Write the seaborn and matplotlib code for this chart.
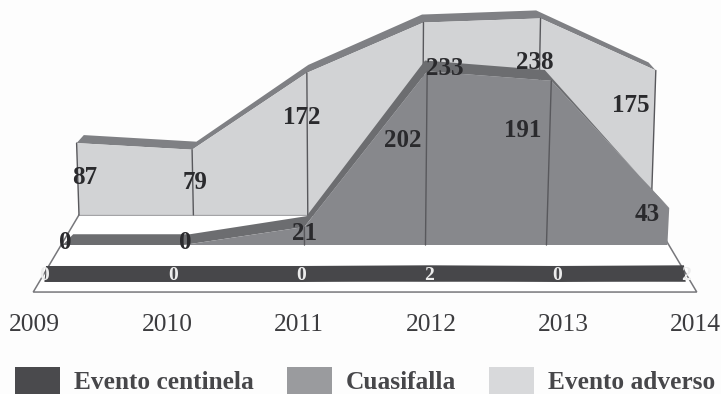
import matplotlib
matplotlib.use("Agg")
import matplotlib.pyplot as plt
from matplotlib.patches import Patch
import pandas as pd
import seaborn as sns

years = [2009, 2010, 2011, 2012, 2013, 2014]
evento_centinela = [0, 0, 0, 2, 0, 2]
cuasifalla = [0, 0, 21, 202, 191, 43]
evento_adverso = [87, 79, 172, 233, 238, 175]
series_names = ["Evento centinela", "Cuasifalla", "Evento adverso"]

PAPER = "#fdfdfd"
WIDTH, HEIGHT = 721, 394
X_PER_YEAR = 127.6
Y_PER_COUNT = 0.86
MID_YEAR = 2011.5

# Depth rows of the pseudo-3D stage: horizontal spread, baseline, vertical
# scale, widening with height, and the shrink/lift of the far edge of the ribbon.
ROW_FRONT = dict(spread=1.005, base=-43.0, vscale=0.4, lean=0.0, far=0.995, lift=18.6)
ROW_MIDDLE = dict(spread=0.948, base=0.0, vscale=1.0, lean=1.4e-4, far=0.965, lift=12.5)
ROW_BACK = dict(spread=0.8966, base=35.0, vscale=0.96, lean=1.0e-4, far=0.975, lift=9.3)


def project(year, value, row, far_edge=False):
    """Map a (year, count) pair in a depth row onto the flat axes."""
    height = value * row["vscale"]
    x = (year - MID_YEAR) * row["spread"] * (1 + height * row["lean"])
    y = row["base"] + height
    if far_edge:
        x *= row["far"]
        y += row["lift"]
    return MID_YEAR + x, y


def outline(ax, xs, ys, color, width, order):
    data = pd.DataFrame({"x": xs, "y": ys})
    sns.lineplot(data=data, x="x", y="y", sort=False, estimator=None, color=color,
                 linewidth=width, zorder=order, ax=ax)


def draw_row(ax, values, row, face, ribbon, order, drop_years=()):
    near = [project(yr, v, row) for yr, v in zip(years, values)]
    far = [project(yr, v, row, True) for yr, v in zip(years, values)]
    base = [project(yr, 0, row) for yr in years]
    ribbon_poly = near + far[::-1]
    ax.fill(*zip(*ribbon_poly), color=ribbon, linewidth=0, zorder=order)
    face_poly = near + base[::-1]
    ax.fill(*zip(*face_poly), color=face, linewidth=0, zorder=order + 0.1)
    for yr in drop_years:
        v = values[years.index(yr)]
        p0, p1 = project(yr, 0, row), project(yr, v, row)
        outline(ax, [p0[0], p1[0]], [p0[1], p1[1]], "#58585c", 1.0, order + 0.2)
    return near


sns.set_theme(style="white", font="Liberation Serif")
fig, ax = plt.subplots(figsize=(WIDTH / 100, HEIGHT / 100), dpi=100)
fig.patch.set_facecolor(PAPER)
ax.set_position([0, 0, 1, 1])

# Floor of the stage
floor_row = dict(ROW_FRONT, spread=1.04, base=-54.7)
floor = [project(years[0], 0, floor_row), project(years[-1], 0, floor_row),
         project(years[-1], 0, ROW_BACK), project(years[0], 0, ROW_BACK)]
ax.fill(*zip(*floor), facecolor="white", edgecolor="#77777b", linewidth=1.1, zorder=1)

back_top = draw_row(ax, evento_adverso, ROW_BACK, "#d2d3d5", "#7f8084", 2, years)
mid_top = draw_row(ax, cuasifalla, ROW_MIDDLE, "#87888c", "#6c6d70", 3, years[2:5])
front_top = draw_row(ax, evento_centinela, ROW_FRONT, "#47474a", "#47474a", 4)

# Value labels, nudged off the top corner of each mark (pixels: right, down)
back_nudge = [(8, 32), (3, 30), (-5, 42), (21, 43), (-6, 42), (-25, 33)]
mid_nudge = [(3, -5), (2, -5), (0, 4), (-24, 67), (-29, 47), (-22, 4)]
front_nudge = [(0, -8)] * 6


def value_labels(points, values, nudges, color, size):
    for (x, y), v, (dx, dy) in zip(points, values, nudges):
        ax.annotate(str(v), xy=(x, y), xytext=(dx * 0.72, -dy * 0.72),
                    textcoords="offset points", ha="center", va="center_baseline",
                    fontsize=size, fontweight="bold", color=color, zorder=6)


value_labels(back_top, evento_adverso, back_nudge, "#2a2a2d", 18)
value_labels(mid_top, cuasifalla, mid_nudge, "#2a2a2d", 18)
value_labels(front_top, evento_centinela, front_nudge, "#ececec", 14)

# Year labels run along the front edge of the floor
tick_row = dict(floor_row, spread=1.035)
for yr in years:
    x, y = project(yr, 0, tick_row)
    ax.annotate(str(yr), xy=(x, y), xytext=(0, -30 * 0.72), textcoords="offset points",
                ha="center", va="center_baseline", fontsize=18.4, color="#3c3c3f")

handles = [Patch(facecolor=c, edgecolor="none", label=n)
           for c, n in zip(["#4a4a4d", "#9a9b9e", "#d8d9db"], series_names)]
ax.legend(handles=handles, ncols=3, frameon=False, loc="lower left",
          bbox_to_anchor=(15 / WIDTH, 0.0), bbox_transform=fig.transFigure,
          prop=dict(family="Liberation Serif", weight="bold", size=18.3),
          labelcolor="#47474a", handlelength=1.77, handleheight=1.26,
          handletextpad=0.55, columnspacing=1.3, borderpad=0, borderaxespad=0)

ax.set_xlim(2009 - 46 / X_PER_YEAR, 2009 + (WIDTH - 46) / X_PER_YEAR)
ax.set_ylim((245 - HEIGHT) / Y_PER_COUNT, 245 / Y_PER_COUNT)
ax.axis("off")
fig.savefig("out.png", dpi=100, facecolor=PAPER)
